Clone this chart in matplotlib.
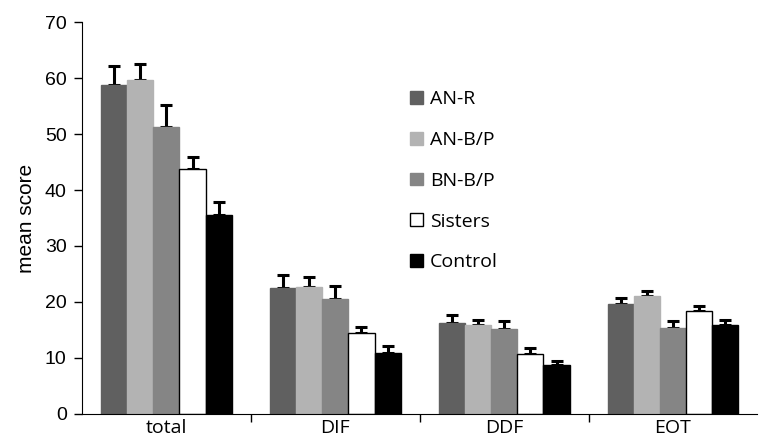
import matplotlib.pyplot as plt
import numpy as np

categories = ["total", "DIF", "DDF", "EOT"]
groups = ["AN-R", "AN-B/P", "BN-B/P", "Sisters", "Control"]

# mean scores per group (one value per category)
anr = [58.7, 22.4, 16.3, 19.6]
anbp = [59.7, 22.6, 15.9, 21.0]
bnbp = [51.2, 20.6, 15.1, 15.3]
sisters = [43.8, 14.4, 10.7, 18.3]
control = [35.6, 10.9, 8.7, 15.9]

# upper error (SE) per group
anr_err = [3.4, 2.4, 1.3, 1.1]
anbp_err = [2.8, 1.8, 0.9, 1.0]
bnbp_err = [4.0, 2.3, 1.5, 1.3]
sisters_err = [2.1, 1.1, 1.1, 1.0]
control_err = [2.2, 1.2, 0.7, 0.9]

means = [anr, anbp, bnbp, sisters, control]
errs = [anr_err, anbp_err, bnbp_err, sisters_err, control_err]
colors = ["#606060", "#b3b3b3", "#858585", "#ffffff", "#000000"]

fig = plt.figure(figsize=(7.59, 4.44), dpi=100)
ax = fig.add_axes([0.108, 0.068, 0.89, 0.882])

x = np.arange(len(categories))
w = 0.155
for i in range(len(groups)):
    pos = x + (i - 2) * w
    ax.bar(pos, means[i], w, color=colors[i], edgecolor="black" if i == 3 else colors[i],
           linewidth=1.0, label=groups[i], zorder=2)
    ax.errorbar(pos, means[i], yerr=[np.zeros(4), errs[i]], fmt="none", ecolor="black",
                elinewidth=2.2, capsize=4.5, capthick=2.2, zorder=1)

ax.set_xlim(-0.5, 3.5)
ax.set_ylim(0, 70)
ax.set_yticks(range(0, 71, 10))
ax.tick_params(axis="y", labelsize=14, length=6, width=1, direction="out", pad=5)
for t in ax.get_yticklabels():
    t.set_family("Liberation Sans")

ax.set_xticks([0.5, 1.5, 2.5])
ax.set_xticklabels([])
ax.set_xticks(x, minor=True)
ax.set_xticklabels(categories, minor=True, fontsize=14, family="Open Sans")
ax.tick_params(axis="x", which="minor", length=0, pad=4)
ax.tick_params(axis="x", which="major", length=6, width=1)

ax.set_ylabel("mean score", fontsize=15, family="Liberation Sans", labelpad=6)
ax.spines["top"].set_visible(False)
ax.spines["right"].set_visible(False)

ax.legend(loc="upper left", bbox_to_anchor=(0.486, 0.826), frameon=False,
          prop={"family": "Open Sans", "size": 14}, handlelength=0.65, handleheight=0.65,
          handletextpad=0.35, labelspacing=1.17, borderpad=0, borderaxespad=0)

fig.savefig("out.png", dpi=100)
